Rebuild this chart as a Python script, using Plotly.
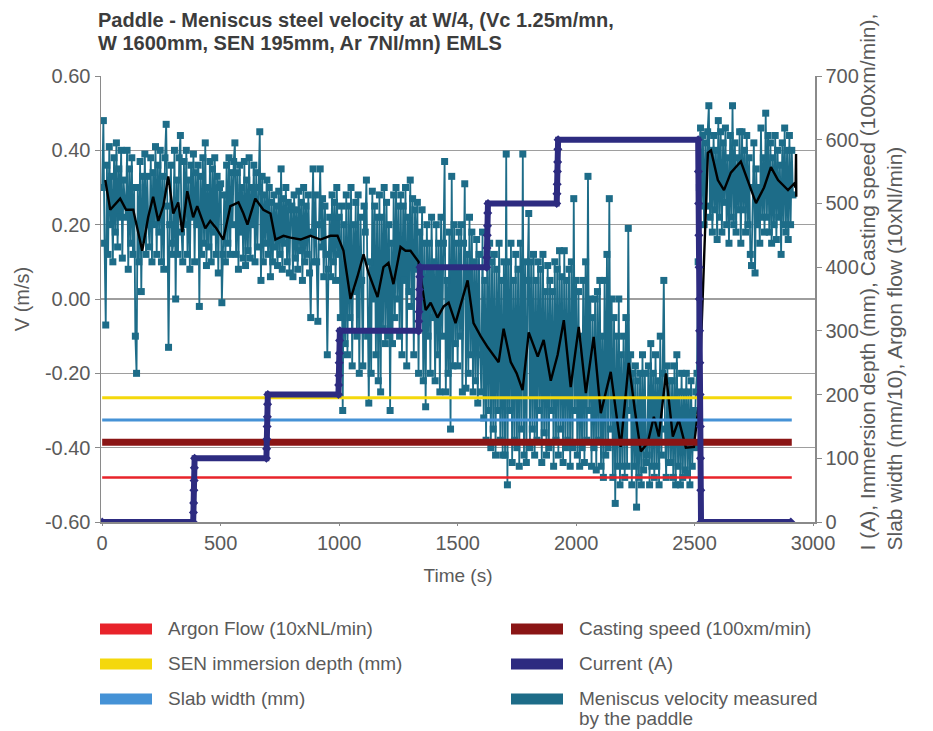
import numpy as np
import plotly.graph_objects as go

# ---------------- data ----------------
# Meniscus velocity measured by the paddle (m/s), sampled every 5 s from t=0
velocity_t0 = 0
velocity_dt = 5
velocity = [
    0.30, 0.48, 0.15, -0.07, 0.36, 0.12, 0.41, 0.20, 0.33, 0.10, 0.38, 0.18, 0.42, 0.14, 0.35, 0.22, 0.40, 0.11, 0.32, 0.25,
    0.22, 0.40, 0.08, 0.35, 0.15, 0.38, 0.12, 0.30, -0.10, -0.20, 0.30, 0.10, 0.37, 0.02, 0.33, 0.16, 0.39, 0.12, 0.33, 0.20,
    0.14, 0.38, 0.10, 0.34, 0.20, 0.41, 0.12, 0.36, 0.18, 0.40, 0.10, 0.33, 0.08, 0.38, 0.47, 0.25, -0.13, 0.20, 0.36, 0.12,
    0.15, 0.40, 0.00, 0.32, 0.12, 0.38, 0.44, 0.18, 0.10, 0.37, 0.20, 0.40, 0.12, 0.32, 0.08, 0.36, 0.22, 0.39, 0.10, 0.34,
    0.20, 0.36, -0.02, 0.33, 0.12, 0.38, 0.15, 0.42, 0.09, 0.30, 0.14, 0.37, 0.10, 0.35, 0.18, 0.38, 0.12, 0.33, 0.07, 0.30,
    0.31, -0.01, 0.12, 0.28, 0.10, 0.36, 0.15, 0.38, 0.12, 0.34, 0.20, 0.37, 0.42, 0.12, 0.34, 0.08, 0.36, 0.18, 0.30, 0.11,
    0.37, 0.09, 0.32, 0.13, 0.38, 0.11, 0.30, 0.20, 0.36, 0.10, 0.34, 0.14, 0.30, 0.45, 0.05, 0.33, 0.10, 0.28, 0.15, 0.32,
    0.12, 0.30, 0.06, 0.26, 0.10, 0.28, 0.14, 0.25, 0.09, 0.29, 0.12, 0.35, 0.08, 0.27, 0.15, 0.30, 0.10, 0.26, 0.07, 0.24,
    0.25, 0.06, 0.28, 0.11, 0.24, 0.08, 0.29, 0.13, 0.26, 0.05, 0.30, 0.10, 0.25, 0.12, 0.28, 0.07, -0.05, 0.18, 0.35, 0.10,
    0.28, 0.10, -0.06, 0.20, 0.35, 0.14, 0.27, 0.06, 0.25, 0.12, -0.15, 0.08, 0.22, 0.06, 0.28, 0.10, 0.26, 0.05, 0.30, 0.12,
    0.22, -0.05, 0.25, -0.30, 0.20, -0.12, 0.28, -0.15, 0.25, -0.05, 0.30, -0.18, 0.20, 0.02, 0.26, -0.10, 0.28, -0.20, 0.22, 0.05,
    -0.18, 0.25, 0.18, 0.32, -0.10, -0.28, 0.10, -0.20, 0.29, 0.00, 0.25, -0.15, 0.22, -0.22, 0.28, -0.25, 0.22, -0.08, 0.30, -0.12,
    0.26, -0.10, 0.20, -0.30, 0.15, -0.12, 0.28, -0.05, 0.30, 0.00, 0.25, -0.10, 0.28, -0.15, 0.25, 0.05, 0.30, -0.18, 0.22, 0.02,
    0.32, -0.02, 0.27, -0.15, 0.24, 0.08, 0.26, -0.20, 0.18, 0.05, 0.24, -0.22, 0.15, -0.29, 0.20, -0.10, 0.15, -0.20, 0.22, -0.05,
    0.10, -0.22, 0.20, -0.15, 0.15, -0.25, 0.22, -0.10, 0.15, 0.37, -0.25, 0.05, -0.20, 0.18, -0.35, 0.33, -0.18, 0.20, -0.12, 0.15,
    -0.18, 0.18, -0.10, 0.20, -0.25, 0.15, 0.31, -0.24, 0.12, -0.20, 0.22, -0.15, 0.18, -0.25, 0.10, -0.22, 0.16, -0.28, 0.12, -0.15,
    -0.25, 0.18, -0.32, 0.05, -0.38, 0.12, -0.30, 0.15, -0.40, 0.10, -0.35, 0.12, -0.42, 0.08, -0.30, 0.15, -0.38, 0.05, -0.42, 0.10,
    -0.42, 0.39, -0.50, 0.10, -0.30, 0.15, -0.44, 0.05, -0.38, 0.12, -0.40, 0.08, -0.45, 0.15, -0.35, 0.39, -0.42, 0.10, -0.44, 0.05,
    0.23, -0.40, 0.10, -0.35, 0.12, -0.42, 0.05, -0.38, 0.10, -0.30, 0.08, -0.44, 0.12, -0.36, 0.02, -0.42, 0.09, -0.40, 0.05, -0.30,
    0.02, -0.45, 0.10, -0.38, 0.08, -0.42, 0.13, -0.35, 0.06, -0.44, 0.13, -0.40, 0.05, -0.38, 0.08, -0.45, 0.10, -0.40, 0.27, -0.30,
    0.05, -0.42, 0.02, -0.45, -0.10, -0.40, 0.05, -0.44, 0.10, -0.38, 0.33, -0.30, 0.00, -0.45, -0.05, -0.40, 0.00, -0.46, 0.02, -0.38,
    0.05, -0.45, -0.10, -0.48, 0.05, -0.42, 0.12, -0.40, 0.27, -0.35, 0.00, -0.48, -0.05, -0.55, -0.10, -0.45, 0.00, -0.50, -0.15, -0.45,
    -0.10, -0.48, -0.05, -0.45, 0.19, -0.30, -0.15, -0.50, -0.20, -0.45, -0.18, -0.56, -0.22, -0.48, -0.20, -0.50, -0.15, -0.46, -0.20, -0.44,
    -0.42, -0.18, -0.50, -0.12, -0.45, -0.20, -0.48, -0.15, -0.45, -0.22, -0.50, -0.10, -0.42, -0.20, 0.05, -0.35, -0.48, -0.18, -0.44, -0.22,
    -0.44, -0.22, -0.48, -0.18, -0.50, -0.15, -0.45, -0.25, -0.50, -0.20, -0.48, -0.25, -0.46, -0.20, -0.47, -0.25, -0.50, -0.22, -0.45, -0.30,
    -0.40, -0.25, -0.20, 0.10, 0.30, 0.46, 0.25, 0.44, 0.20, 0.42, 0.25, 0.45, 0.52, 0.22, 0.40, 0.18, 0.44, 0.24, 0.40, 0.16,
    0.48, 0.22, 0.45, 0.18, 0.42, 0.26, 0.46, 0.20, 0.38, 0.15, 0.44, 0.22, 0.52, 0.20, 0.42, 0.18, 0.38, 0.24, 0.45, 0.15,
    0.45, 0.24, 0.40, 0.18, 0.44, 0.20, 0.38, 0.12, 0.09, 0.30, 0.42, 0.07, 0.35, 0.20, 0.30, 0.15, 0.46, 0.22, 0.38, 0.18,
    0.50, 0.22, 0.44, 0.18, 0.42, 0.15, 0.38, 0.20, 0.44, 0.16, 0.40, 0.22, 0.36, 0.12, 0.42, 0.20, 0.46, 0.18, 0.40, 0.16,
    0.44, 0.20, 0.40, 0.28,
]
velocity_time = velocity_t0 + velocity_dt * np.arange(len(velocity))

# Smoothed velocity (black line)
smooth_time = [13, 34, 76, 101, 131, 169, 194, 215, 237, 258, 279, 300, 321, 338, 359,
               384, 401, 418, 435, 456, 482, 511, 541, 575, 596, 613, 646, 680, 710, 731,
               765, 794, 837, 879, 921, 963, 993, 1018, 1048, 1077, 1103, 1124, 1162, 1187,
               1208, 1229, 1259, 1280, 1301, 1335, 1365, 1386, 1415, 1441, 1462, 1491, 1521,
               1542, 1567, 1597, 1627, 1673, 1694, 1724, 1749, 1774, 1800, 1838, 1863, 1893,
               1922, 1948, 1977, 2011, 2041, 2074, 2104, 2146, 2188, 2222, 2248, 2273, 2302,
               2328, 2349, 2379, 2408, 2433, 2463, 2497, 2518, 2539, 2556, 2569, 2598, 2624,
               2653, 2695, 2725, 2759, 2793, 2822, 2852, 2894, 2919, 2926, 2928, 2929]
smooth_v = [0.32, 0.24, 0.27, 0.24, 0.24, 0.13, 0.22, 0.275, 0.21, 0.25, 0.33, 0.23, 0.26, 0.18, 0.29,
            0.22, 0.25, 0.22, 0.19, 0.21, 0.19, 0.16, 0.25, 0.26, 0.23, 0.20, 0.27, 0.24, 0.23, 0.16,
            0.17, 0.165, 0.16, 0.17, 0.16, 0.17, 0.17, 0.13, 0.00, 0.06, 0.12, 0.07, 0.005, 0.086,
            0.097, 0.04, 0.14, 0.13, 0.13, 0.10, -0.03, -0.01, -0.05, -0.02, -0.01, -0.065, 0.00,
            0.05, -0.065, -0.10, -0.13, -0.17, -0.08, -0.17, -0.20, -0.245, -0.09, -0.155, -0.11, -0.22,
            -0.15, -0.057, -0.237, -0.075, -0.253, -0.102, -0.307, -0.196, -0.398, -0.172, -0.30, -0.41, -0.387,
            -0.317, -0.37, -0.20, -0.37, -0.325, -0.40, -0.398, -0.28, 0.078, 0.393, 0.40, 0.32, 0.293,
            0.34, 0.37, 0.32, 0.258, 0.30, 0.355, 0.32, 0.293, 0.31, 0.30, 0.39, 0.275]

# Current (A) step profile
current_time = [0, 384, 385, 386, 387, 388, 389, 390,
                693, 694, 695, 696, 697, 698, 699,
                997, 998, 999, 1000, 1001, 1002, 1003,
                1335, 1336, 1337, 1338, 1339, 1340, 1341,
                1622, 1623, 1624, 1625, 1626, 1627, 1628,
                1918, 1919, 1920, 1921, 1922, 1923, 1924,
                2515, 2516, 2517, 2518, 2519, 2520, 2521, 2522, 2523, 2524, 2525, 2526, 2527,
                2906]
current_a = [0, 0, 15, 30, 50, 65, 85, 100,
             100, 115, 130, 150, 165, 185, 200,
             200, 215, 230, 250, 265, 285, 300,
             300, 315, 330, 350, 365, 385, 400,
             400, 415, 430, 450, 465, 485, 500,
             500, 515, 530, 550, 565, 585, 600,
             600, 550, 500, 450, 400, 350, 300, 250, 200, 150, 100, 50, 0,
             0]

# Constant process parameters (right axis units)
const_time = [0, 2910]
argon_flow = [70, 70]        # 10 x NL/min
sen_depth = [195, 195]       # mm
slab_width = [160, 160]      # mm/10
casting_speed = [125, 125]   # 100 x m/min

left_ticks = [-0.6, -0.4, -0.2, 0.0, 0.2, 0.4, 0.6]
left_ticktext = ["-0.60", "-0.40", "-0.20", "0.00", "0.20", "0.40", "0.60"]
right_ticks = [0, 100, 200, 300, 400, 500, 600, 700]
x_ticks = [0, 500, 1000, 1500, 2000, 2500, 3000]

# ---------------- style ----------------
TEAL = "#1D6C88"
NAVY = "#2D2B80"
RED = "#E8232A"
DARKRED = "#8A1515"
YELLOW = "#F4D80C"
BLUE = "#4592D6"
GRID = "#9E9E9E"
TXT = "#5a5a5a"
FONT = "Liberation Sans, Arial, sans-serif"

W, H = 933, 731
PL, PR, PT, PB = 101, 815, 76, 522   # plot area in page pixels
L, R, T, B = PL, W - PR, PT, H - PB
PW, PH = PR - PL, PB - PT


def px(xp):
    return (xp - PL) / PW


def py(yp):
    return (PB - yp) / PH


fig = go.Figure()

fig.add_trace(go.Scatter(x=velocity_time, y=velocity, mode="lines+markers", yaxis="y",
                         line=dict(color=TEAL, width=1.8),
                         marker=dict(symbol="square", size=7, color=TEAL),
                         name="Meniscus velocity measured by the paddle", showlegend=False))

for vals, col, nm, w in [(argon_flow, RED, "Argon Flow (10xNL/min)", 2.5),
                         (sen_depth, YELLOW, "SEN immersion depth (mm)", 3),
                         (slab_width, BLUE, "Slab width (mm)", 3),
                         (casting_speed, DARKRED, "Casting speed (100xm/min)", 7)]:
    fig.add_trace(go.Scatter(x=const_time, y=vals, mode="lines", yaxis="y2",
                             line=dict(color=col, width=w), name=nm, showlegend=False))

fig.add_trace(go.Scatter(x=current_time, y=current_a, mode="lines+markers", yaxis="y2",
                         line=dict(color=NAVY, width=6),
                         marker=dict(symbol="diamond", size=7, color=NAVY),
                         name="Current (A)", showlegend=False))

fig.add_trace(go.Scatter(x=smooth_time, y=smooth_v, mode="lines", yaxis="y",
                         line=dict(color="black", width=2.4), showlegend=False, name="Average"))

axis_common = dict(zeroline=False, showline=True, linecolor="#8a8a8a", linewidth=1.5,
                   ticks="outside", ticklen=5, tickcolor="#8a8a8a",
                   tickfont=dict(size=20, color=TXT))

fig.update_layout(
    width=W, height=H,
    margin=dict(l=L, r=R, t=T, b=B, autoexpand=False),
    paper_bgcolor="white", plot_bgcolor="white",
    font=dict(family=FONT, color=TXT, size=19),
    xaxis=dict(range=[-5, 3008], tickvals=x_ticks, showgrid=False, **axis_common,
               title=dict(text="Time (s)", font=dict(size=19, color=TXT), standoff=16)),
    yaxis=dict(range=[-0.6, 0.6], tickvals=left_ticks, ticktext=left_ticktext,
               showgrid=True, gridcolor=GRID, gridwidth=1.3, **axis_common,
               title=dict(text="V (m/s)", font=dict(size=20, color=TXT), standoff=10)),
    yaxis2=dict(range=[0, 700], tickvals=right_ticks, overlaying="y", side="right",
                showgrid=False, **axis_common),
    showlegend=False,
    hovermode=False,
)
fig.update_xaxes(ticklen=2)

ann = []
# Title (two lines)
for txt, yc in [("Paddle - Meniscus steel velocity at W/4, (Vc 1.25m/mn,", 20),
                ("W 1600mm, SEN 195mm, Ar 7NI/mn) EMLS", 43)]:
    ann.append(dict(xref="paper", yref="paper", x=px(96), y=py(yc), xanchor="left", yanchor="middle",
                    align="left", showarrow=False, text="<b>" + txt + "</b>",
                    font=dict(family=FONT, size=20, color="#3c3c3c")))
# Right axis title
ann.append(dict(xref="paper", yref="paper", x=px(880.5), y=py(282), xanchor="center", yanchor="middle",
                textangle=-90, align="left", showarrow=False,
                text="I (A), Immersion depth (mm), Casting speed (100xm/min),<br>"
                     "Slab width (mm/10), Argon flow (10xNl/min)",
                font=dict(size=21, color=TXT)))

# Legend (manual): colour swatch + label lines
legend_items = [
    (RED, ["Argon Flow (10xNL/min)"], 100, 629),
    (YELLOW, ["SEN immersion depth (mm)"], 100, 664),
    (BLUE, ["Slab width (mm)"], 100, 699),
    (DARKRED, ["Casting speed (100xm/min)"], 511, 629),
    (NAVY, ["Current (A)"], 511, 664),
    (TEAL, ["Meniscus velocity measured", "by the paddle"], 511, 699),
]
shapes = []
for col, lines, x0, yc in legend_items:
    shapes.append(dict(type="rect", xref="paper", yref="paper",
                       x0=px(x0), x1=px(x0 + 52), y0=py(yc + 5.5), y1=py(yc - 5.5),
                       fillcolor=col, line=dict(width=0)))
    for i, line in enumerate(lines):
        ann.append(dict(xref="paper", yref="paper", x=px(x0 + 66), y=py(yc - 1 + 20 * i),
                        xanchor="left", yanchor="middle", align="left", showarrow=False,
                        text=line, font=dict(size=19, color=TXT)))

fig.update_layout(annotations=ann, shapes=shapes)
fig.write_html("out.html",
               config={"displayModeBar": False, "staticPlot": True},
               post_script="document.body.style.margin='0px';document.body.style.padding='0px';"
                           "document.body.style.overflow='hidden';")
